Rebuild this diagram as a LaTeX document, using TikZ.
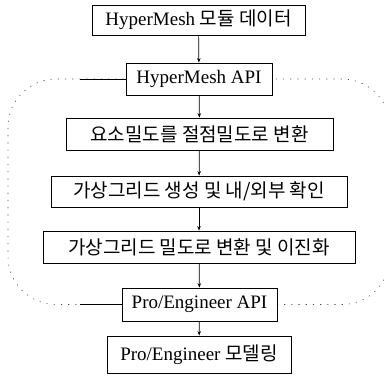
\documentclass[tikz,border=0pt]{standalone}
\usepackage{fontspec}
\setmainfont{Liberation Serif}
\newfontfamily\kr{Noto Sans CJK KR}
\usetikzlibrary{arrows.meta}
\begin{document}
\begin{tikzpicture}[x=1pt,y=-1pt,
  box/.style={draw, line width=0.8pt, fill=white, inner sep=0pt, font=\fontsize{19}{21}\selectfont},
  flow/.style={-{Stealth[length=4.5pt,width=3.5pt]}, line width=0.7pt},
  loopline/.style={line width=0.6pt, black!70, dash pattern=on 1.2pt off 6pt},
  link/.style={line width=0.7pt}]
\useasboundingbox (0,0) rectangle (384,378);
\draw[loopline, rounded corners=48pt] (199,79) -- (390,79) -- (390,304.5) -- (8,304.5) -- (8,79) -- cycle;
\node[box, minimum width=213pt, minimum height=30pt] (n1) at (198.5,20) {HyperMesh {\kr 모듈 데이터}};
\node[box, minimum width=146pt, minimum height=32pt] (n2) at (199,79) {HyperMesh API};
\node[box, minimum width=267pt, minimum height=32pt] (n3) at (199.5,134) {\kr 요소밀도를 절점밀도로 변환};
\node[box, minimum width=296pt, minimum height=31pt] (n4) at (199,191.5) {\kr 가상그리드 생성 및 내/외부 확인};
\node[box, minimum width=312pt, minimum height=32pt] (n5) at (199,247) {\kr 가상그리드 밀도로 변환 및 이진화};
\node[box, minimum width=155pt, minimum height=33pt] (n6) at (199.5,304.5) {Pro/Engineer API};
\node[box, minimum width=184pt, minimum height=37pt] (n7) at (199,354.5) {Pro/Engineer {\kr 모델링}};
\coordinate (a) at (80,79);
\coordinate (b) at (80,304.5);
\draw[link] (n2.west) -- (a);
\draw[link] (n6.west) -- (b);
\draw[flow] (n1) -- (n2);
\draw[flow] (n2) -- (n3);
\draw[flow] (n3) -- (n4);
\draw[flow] (n4) -- (n5);
\draw[flow] (n5) -- (n6);
\draw[flow] (n6) -- (n7);
\end{tikzpicture}
\end{document}
